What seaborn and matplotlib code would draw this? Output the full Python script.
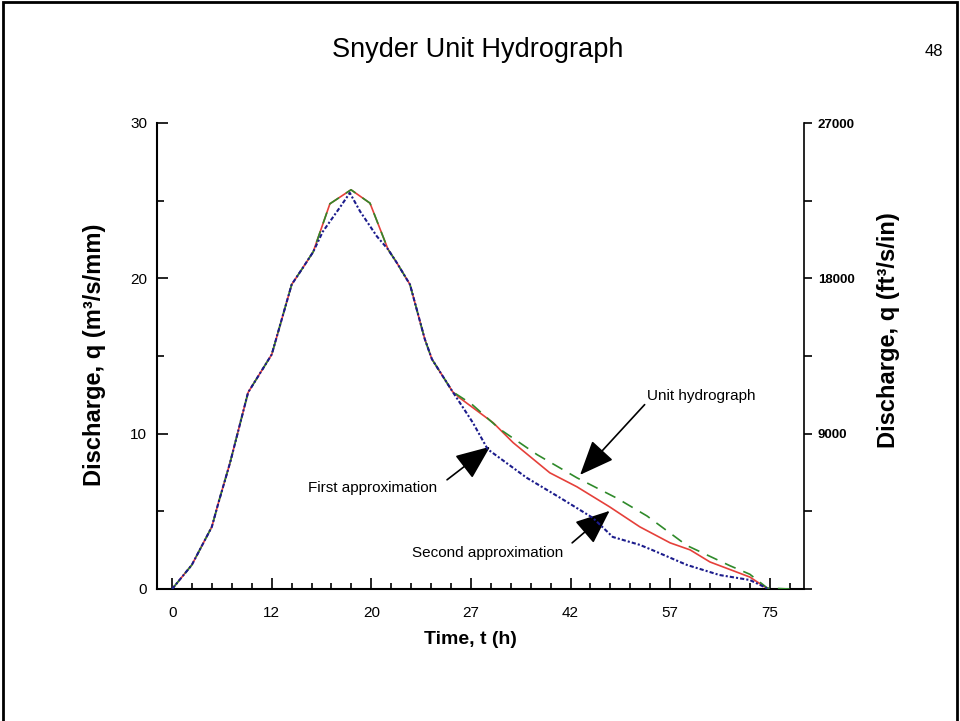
import matplotlib
matplotlib.use("Agg")
import matplotlib.pyplot as plt
import seaborn as sns
from matplotlib import font_manager
from matplotlib.patches import Rectangle
from matplotlib.ticker import MultipleLocator

# x positions are in axis units: the labelled ticks sit every 12.5 units
time_ticks = [0, 12.5, 25, 37.5, 50, 62.5, 75]
time_labels = ["0", "12", "20", "27", "42", "57", "75"]
q_ticks = [0, 10, 20, 30]
ft_ticks = [10, 20, 30]
ft_labels = ["9000", "18000", "27000"]

# Second approximation (red, solid)
second_t = [0, 2.47, 4.98, 5.81, 7.27, 9.53, 12.5, 15.0, 16.3, 17.7, 19.8, 22.45,
            24.83, 27.09, 28.2, 29.85, 31.7, 32.6, 35.2, 36.1, 40.3, 42.8, 47.4,
            50.8, 54.9, 58.7, 62.5, 65.0, 67.5, 72.5, 74.6, 75]
second_q = [0, 1.55, 4.0, 5.55, 8.13, 12.65, 15.1, 19.6, 20.6, 21.7, 24.8, 25.7,
            24.84, 21.87, 21.0, 19.6, 16.1, 14.8, 12.7, 12.3, 10.7, 9.42, 7.48,
            6.58, 5.29, 4.0, 2.97, 2.52, 1.74, 0.77, 0.06, 0]

# Unit hydrograph (green, dashed)
unit_t = [0, 2.47, 4.98, 5.81, 7.27, 9.53, 12.5, 15.0, 16.3, 17.7, 19.8, 22.45,
          24.83, 27.09, 28.2, 29.85, 31.7, 32.6, 35.2, 37.6, 41.1, 45.8, 50.8,
          55.8, 59.6, 64.6, 70.0, 72.5, 74.7, 77.5]
unit_q = [0, 1.55, 4.0, 5.55, 8.13, 12.65, 15.1, 19.6, 20.6, 21.7, 24.8, 25.7,
          24.84, 21.87, 21.0, 19.6, 16.1, 14.8, 12.7, 11.9, 10.3, 8.65, 7.16,
          5.85, 4.7, 2.8, 1.5, 0.95, 0.06, 0]

# First approximation (blue, dotted)
first_t = [0, 2.47, 4.98, 5.81, 7.27, 9.53, 12.5, 15.0, 16.3, 17.7, 18.9, 21.1,
           22.3, 23.6, 25.7, 27.09, 28.2, 29.85, 31.7, 32.6, 35.2, 36.1, 37.75,
           39.6, 44.5, 48.7, 52.8, 55.3, 58.7, 60.3, 64.6, 68.7, 72.5, 74.6, 75]
first_q = [0, 1.55, 4.0, 5.55, 8.13, 12.65, 15.1, 19.6, 20.6, 21.7, 23.0, 24.6,
           25.5, 24.3, 22.7, 21.87, 21.0, 19.6, 16.1, 14.8, 12.7, 12.0, 10.7,
           9.0, 7.16, 5.87, 4.58, 3.35, 2.84, 2.5, 1.55, 0.9, 0.58, 0.06, 0]

sns.set_style("ticks")
plt.rcParams["font.family"] = ["Liberation Sans", "DejaVu Sans"]
for key in ["text.color", "axes.labelcolor", "xtick.color", "ytick.color", "axes.edgecolor"]:
    plt.rcParams[key] = "black"

available = {f.name for f in font_manager.fontManager.ttflist}
title_font = "Liberation Sans Narrow" if "Liberation Sans Narrow" in available else "Liberation Sans"

fig = plt.figure(figsize=(9.6, 7.21), dpi=100)
ax = fig.add_axes([157 / 960, 1 - 589 / 721, (804 - 157) / 960, (589 - 123) / 721])

sns.lineplot(x=second_t, y=second_q, ax=ax, color="#e5403a", linewidth=1.2,
             sort=False, estimator=None, zorder=2)
sns.lineplot(x=unit_t, y=unit_q, ax=ax, color="#2f8a2a", linewidth=1.2,
             linestyle=(0, (7, 5)), sort=False, estimator=None, zorder=3)
sns.lineplot(x=first_t, y=first_q, ax=ax, color="#1c1c8c", linewidth=1.5,
             linestyle=(0, (2, 1, 1, 1)), sort=False, estimator=None, zorder=4)

ax.set_xlim(-1.9, 79.3)
ax.set_ylim(0, 30)
ax.set_xticks(time_ticks)
ax.set_xticklabels(time_labels, fontsize=11)
ax.xaxis.set_minor_locator(MultipleLocator(2.5))
ax.set_yticks(q_ticks)
ax.set_yticklabels([str(v) for v in q_ticks], fontsize=11)
ax.yaxis.set_minor_locator(MultipleLocator(5))
ax.tick_params(axis="x", which="major", direction="in", length=8, width=1.2, pad=12)
ax.tick_params(axis="x", which="minor", direction="in", length=4, width=1.2)
ax.tick_params(axis="y", which="major", direction="in", length=8, width=1.2, pad=7)
ax.tick_params(axis="y", which="minor", direction="in", length=5, width=1.2)
for side in ["top", "right"]:
    ax.spines[side].set_visible(False)
for side in ["left", "bottom"]:
    ax.spines[side].set_linewidth(1.5)

ax.set_xlabel("Time, t (h)", fontsize=14, fontweight="bold")
ax.xaxis.set_label_coords((470 - 157) / (804 - 157), -(631 - 589) / (589 - 123))
ax.set_ylabel("Discharge, q (m³/s/mm)", fontsize=17, fontweight="bold")
ax.yaxis.set_label_coords(-(157 - 106) / (804 - 157), (589 - 355) / (589 - 123))

ax2 = ax.twinx()
ax2.set_ylim(0, 30)
ax2.set_yticks(ft_ticks)
ax2.set_yticklabels(ft_labels, fontsize=9.5, fontweight="bold")
ax2.yaxis.set_minor_locator(MultipleLocator(5))
ax2.tick_params(axis="y", which="both", direction="out", length=6, width=1.2, pad=4)
for side in ["top", "left", "bottom"]:
    ax2.spines[side].set_visible(False)
ax2.spines["right"].set_linewidth(1.2)
ax2.set_ylabel("Discharge, q (ft³/s/in)", fontsize=17, fontweight="bold")
ax2.yaxis.set_label_coords(1 + (877 - 804) / (804 - 157), (589 - 330) / (589 - 123))

# annotations
ax.text(59.6, 12.4, "Unit hydrograph", fontsize=11, va="center", ha="left")
ax.text(17.06, 6.5, "First approximation", fontsize=11, va="center", ha="left")
ax.text(30.1, 2.32, "Second approximation", fontsize=11, va="center", ha="left")
arrow = dict(arrowstyle="-|>,head_length=1.8,head_width=0.75", color="black",
             lw=1.2, shrinkA=0, shrinkB=0, mutation_scale=12)
ax.annotate("", xy=(51.2, 7.35), xytext=(59.3, 11.87), arrowprops=arrow)
ax.annotate("", xy=(39.9, 9.16), xytext=(34.5, 7.03), arrowprops=arrow)
ax.annotate("", xy=(54.9, 5.03), xytext=(50.2, 2.97), arrowprops=arrow)

# slide frame, title and page number
fig.add_artist(Rectangle((3 / 960, -0.1), (957 - 3) / 960, 1.1 - 2 / 721,
                         transform=fig.transFigure, fill=False, edgecolor="black",
                         linewidth=2))
fig.text(478 / 960, 1 - 50 / 721, "Snyder Unit Hydrograph", fontsize=19.5,
         family=title_font, ha="center", va="center")
fig.text(934 / 960, 1 - 52 / 721, "48", fontsize=12, family=title_font,
         ha="center", va="center")

fig.savefig("out.png", dpi=100)
